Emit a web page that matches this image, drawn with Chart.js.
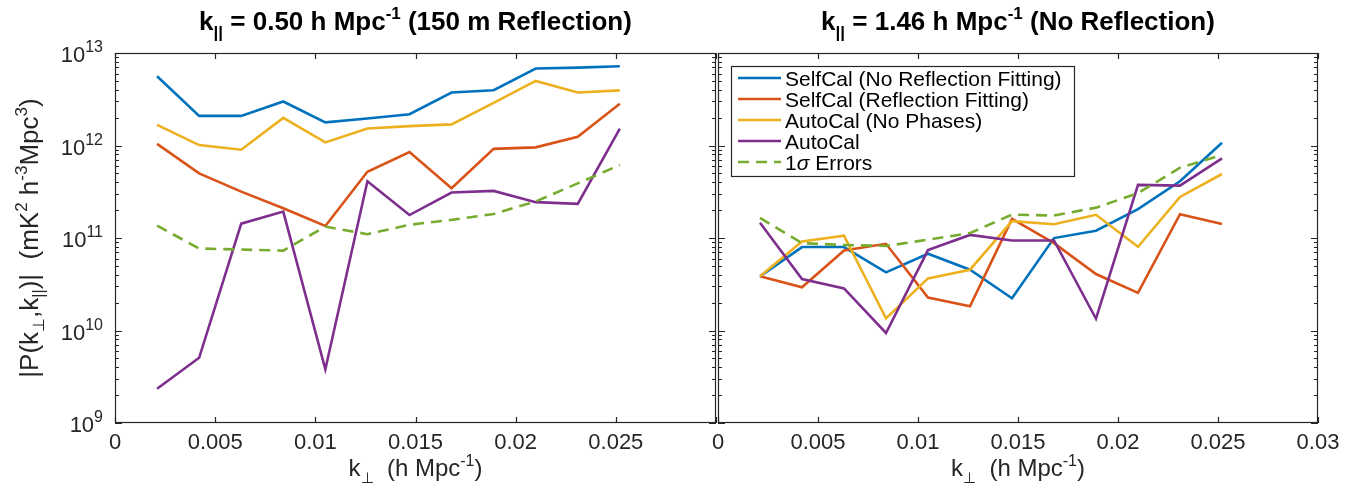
<!DOCTYPE html>
<html><head><meta charset="utf-8">
<script src="https://cdn.jsdelivr.net/npm/chart.js@4/dist/chart.umd.min.js"></script>
<style>
body{margin:0;background:#fff;width:1363px;height:492px;overflow:hidden;position:relative}
#l{position:absolute;left:0;top:0;width:717px;height:492px}
#r{position:absolute;left:680px;top:0;width:683px;height:492px}
</style></head><body>
<div id="l"><canvas id="cl"></canvas></div>
<div id="r"><canvas id="cr"></canvas></div>
<script>
// ---- data ----
const kPerp = [0.0021,0.0042,0.0063,0.0084,0.0105,0.0126,0.0147,0.0168,0.0189,0.0210,0.0231,0.0252];
const xTicks = [0,0.005,0.01,0.015,0.02,0.025,0.03];
const xTickLabels = ['0','0.005','0.01','0.015','0.02','0.025','0.03'];
const yDecades = [9,10,11,12,13];
const seriesNames = ['SelfCal (No Reflection Fitting)','SelfCal (Reflection Fitting)','AutoCal (No Phases)','AutoCal','1σ Errors'];
const seriesColors = ['#0072BD','#D95319','#EDB120','#7E2F8E','#77AC30'];

const leftSelfCalNoRefl = [5.6e12,2.09e12,2.09e12,2.99e12,1.78e12,1.96e12,2.18e12,3.74e12,3.96e12,6.79e12,6.95e12,7.2e12];
const leftSelfCalRefl   = [1.04e12,5.0e11,3.17e11,2.1e11,1.35e11,5.2e11,8.5e11,3.45e11,9.2e11,9.55e11,1.24e12,2.82e12];
const leftAutoCalNoPh   = [1.67e12,1.01e12,9.0e11,1.99e12,1.08e12,1.53e12,1.62e12,1.69e12,2.89e12,4.99e12,3.74e12,3.94e12];
const leftAutoCal       = [2.35e9,5.07e9,1.43e11,1.93e11,3.8e9,4.1e11,1.77e11,3.1e11,3.23e11,2.44e11,2.34e11,1.52e12];
const leftErrors        = [1.36e11,7.7e10,7.5e10,7.3e10,1.33e11,1.10e11,1.39e11,1.57e11,1.82e11,2.48e11,3.9e11,6.15e11];

const rightSelfCalNoRefl = [3.85e10,7.98e10,7.98e10,4.25e10,6.76e10,4.54e10,2.23e10,9.98e10,1.2e11,2.05e11,4.1e11,1.07e12];
const rightSelfCalRefl   = [3.85e10,2.93e10,7.33e10,8.66e10,2.27e10,1.83e10,1.61e11,8.8e10,4.08e10,2.55e10,1.81e11,1.42e11];
const rightAutoCalNoPh   = [3.85e10,9.17e10,1.06e11,1.35e10,3.66e10,4.54e10,1.52e11,1.41e11,1.78e11,8.04e10,2.78e11,4.92e11];
const rightAutoCal       = [1.46e11,3.6e10,2.85e10,9.4e9,7.4e10,1.08e11,9.4e10,9.4e10,1.34e10,3.75e11,3.68e11,7.27e11];
const rightErrors        = [1.65e11,8.8e10,8.4e10,8.2e10,9.6e10,1.13e11,1.79e11,1.75e11,2.13e11,3.05e11,5.75e11,7.9e11];

// ---- helpers ----
const FONT = '"Liberation Sans", Arial, Helvetica, sans-serif';
const AX = '#262626';
function richWidth(ctx, segs){
  let w=0; for(const s of segs){ctx.font=(s.i?'italic ':'')+(s.b?'bold ':'')+s.s+'px '+FONT; w+=ctx.measureText(s.t).width;} return w;
}
function richDraw(ctx, segs, x, y, align){
  const w = richWidth(ctx, segs);
  let cx = align==='center' ? x - w/2 : (align==='right' ? x - w : x);
  ctx.textBaseline='alphabetic'; ctx.textAlign='left';
  for(const s of segs){
    ctx.font=(s.i?'italic ':'')+(s.b?'bold ':'')+s.s+'px '+FONT;
    ctx.fillText(s.t, cx, y + (s.dy||0));
    cx += ctx.measureText(s.t).width;
  }
}

function makeDatasets(arrs){
  const orders=[4,3,2,1,0];
  return arrs.map((a,i)=>({
    label: seriesNames[i],
    data: kPerp.map((k,j)=>({x:k,y:a[j]})),
    borderColor: seriesColors[i],
    backgroundColor: seriesColors[i],
    borderWidth: 2.6,
    borderDash: i===4 ? [11,7] : [],
    pointRadius: 0,
    tension: 0,
    fill: false,
    order: orders[i]
  }));
}

function axesPlugin(opts){
  return {
    id:'matlabAxes'+opts.side,
    afterDraw(chart){
      const ctx=chart.ctx, a=chart.chartArea, xs=chart.scales.x, ys=chart.scales.y;
      ctx.save();
      ctx.strokeStyle=AX; ctx.lineWidth=1.2;
      ctx.strokeRect(a.left+0.5, a.top+0.5, a.right-a.left-1, a.bottom-a.top-1);
      ctx.beginPath();
      xTicks.forEach(v=>{
        const px=Math.round(xs.getPixelForValue(v))+0.5;
        ctx.moveTo(px,a.bottom); ctx.lineTo(px,a.bottom-6);
        ctx.moveTo(px,a.top); ctx.lineTo(px,a.top+6);
      });
      for(let d=yDecades[0]; d<yDecades[yDecades.length-1]; d++){
        for(let m=1;m<=9;m++){
          const py=Math.round(ys.getPixelForValue(m*Math.pow(10,d)))+0.5;
          const len = m===1?7:4;
          ctx.moveTo(a.left,py); ctx.lineTo(a.left+len,py);
          ctx.moveTo(a.right,py); ctx.lineTo(a.right-len,py);
        }
      }
      ctx.stroke();
      ctx.fillStyle='#262626';
      ctx.font='22px '+FONT; ctx.textAlign='center'; ctx.textBaseline='top';
      xTicks.forEach((v,i)=>{
        if(opts.side==='L' && i===xTicks.length-1) return;
        ctx.fillText(xTickLabels[i], xs.getPixelForValue(v), a.bottom+9);
      });
      if(opts.side==='L'){
        yDecades.forEach(d=>{
          const py=ys.getPixelForValue(Math.pow(10,d));
          const segs=[{t:'10',s:22},{t:String(d),s:16,dy:-10}];
          richDraw(ctx,segs,a.left-12,py+9,'right');
        });
        ctx.save();
        ctx.translate(38,(a.top+a.bottom)/2);
        ctx.rotate(-Math.PI/2);
        richDraw(ctx,[{t:'|P(k',s:26},{t:'⊥',s:16,dy:6},{t:',k',s:26},{t:'||',s:16,dy:6},{t:')|  (mK',s:26},{t:'2',s:17,dy:-11},{t:' h',s:26},{t:'-3',s:17,dy:-11},{t:'Mpc',s:26},{t:'3',s:17,dy:-11},{t:')',s:26}],0,0,'center');
        ctx.restore();
      }
      const cx=(a.left+a.right)/2;
      richDraw(ctx,[{t:'k',s:24},{t:'⊥',s:15,dy:7},{t:'  (h Mpc',s:24},{t:'-1',s:16,dy:-10},{t:')',s:24}],cx,a.bottom+53,'center');
      ctx.fillStyle='#000';
      richDraw(ctx,[{t:'k',s:26,b:1},{t:'||',s:17,b:1,dy:8},{t:' = '+opts.kpar+' h Mpc',s:26,b:1},{t:'-1',s:17,b:1,dy:-11},{t:' '+opts.note,s:26,b:1}],cx,a.top-23,'center');
      if(opts.legend){
        const o=a.left;
        const L=o+13,T=66,R=o+356,B=176;
        ctx.fillStyle='#fff'; ctx.fillRect(L,T,R-L,B-T);
        ctx.strokeStyle=AX; ctx.lineWidth=1.2; ctx.strokeRect(L+0.5,T+0.5,R-L,B-T);
        seriesNames.forEach((n,i)=>{
          const y=T+12+i*21;
          ctx.strokeStyle=seriesColors[i]; ctx.lineWidth=2.6;
          ctx.setLineDash(i===4?[11,7]:[]);
          ctx.beginPath(); ctx.moveTo(o+20,y); ctx.lineTo(o+63,y); ctx.stroke();
          ctx.setLineDash([]);
          ctx.fillStyle='#000';
          if(i===4){
            richDraw(ctx,[{t:'1',s:21},{t:'σ',s:21,i:1},{t:' Errors',s:21}],o+67,y+8,'left');
          } else {
            richDraw(ctx,[{t:n,s:21}],o+67,y+8,'left');
          }
        });
      }
      ctx.restore();
    }
  };
}

function makeChart(id, arrs, pad, opts){
  return new Chart(document.getElementById(id),{
    type:'line',
    data:{datasets:makeDatasets(arrs)},
    options:{
      responsive:true, maintainAspectRatio:false, animation:false,
      layout:{padding:pad},
      plugins:{legend:{display:false}, tooltip:{enabled:false}, title:{display:false}},
      scales:{
        x:{type:'linear', min:xTicks[0], max:xTicks[xTicks.length-1], display:false},
        y:{type:'logarithmic', min:Math.pow(10,yDecades[0]), max:Math.pow(10,yDecades[yDecades.length-1]), display:false}
      }
    },
    plugins:[axesPlugin(opts)]
  });
}

makeChart('cl',[leftSelfCalNoRefl,leftSelfCalRefl,leftAutoCalNoPh,leftAutoCal,leftErrors],
  {left:115,right:1,top:53,bottom:69},{side:'L',kpar:'0.50',note:'(150 m Reflection)',legend:false});
makeChart('cr',[rightSelfCalNoRefl,rightSelfCalRefl,rightAutoCalNoPh,rightAutoCal,rightErrors],
  {left:38,right:45,top:53,bottom:69},{side:'R',kpar:'1.46',note:'(No Reflection)',legend:true});
</script>
</body></html>
